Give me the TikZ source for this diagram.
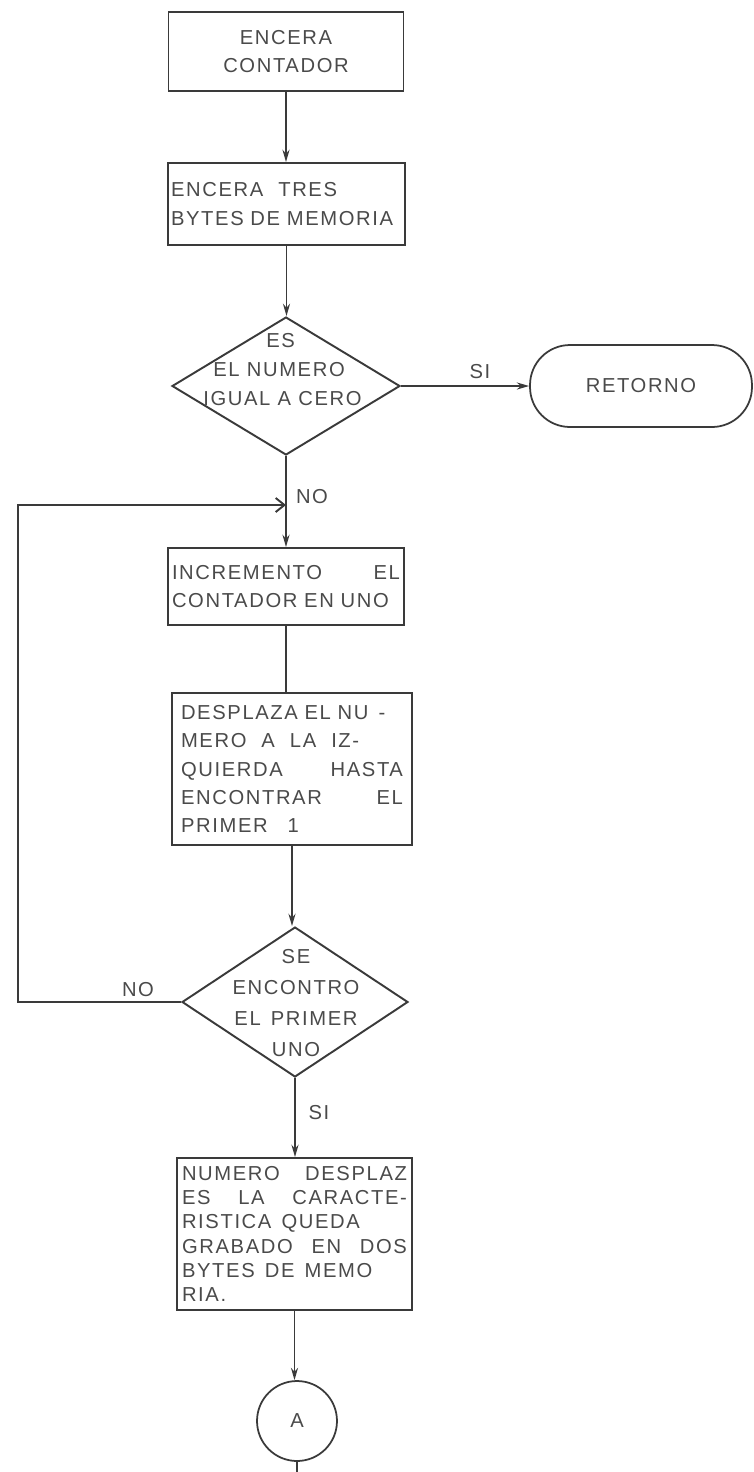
\documentclass[tikz,border=0pt]{standalone}
\usepackage{fontspec}
\setmainfont{Liberation Sans}[LetterSpace=8]
\usetikzlibrary{arrows.meta,shapes.geometric}
\definecolor{inkline}{HTML}{3A3A3A}
\definecolor{inktext}{HTML}{4A4A4A}

\begin{document}
\begin{tikzpicture}[
  x=0.02cm,
  y=-0.02cm,
  every node/.style={font=\fontsize{11.5}{16}\selectfont, inktext},
  stepbox/.style={draw=inkline, line width=1.1pt, rectangle,
                  inner xsep=0.12cm, inner ysep=0pt, align=left},
  decision/.style={draw=inkline, line width=1.1pt, diamond, inner sep=0pt,
                   minimum width=4.56cm, minimum height=2.76cm},
  terminal/.style={draw=inkline, line width=1pt, rectangle,
                   rounded corners=0.8cm, minimum width=4.44cm,
                   minimum height=1.64cm},
  joint/.style={draw=inkline, line width=1pt, circle, inner sep=0pt,
                minimum size=1.6cm},
  flow/.style={inkline, line width=1.1pt, -{Stealth[length=7pt, width=4pt]}},
  link/.style={inkline, line width=1.1pt},
  loopback/.style={inkline, line width=1.1pt,
                   -{Straight Barb[length=5pt, width=8pt]}},
  edgetag/.style={inner sep=0pt}
]
  \useasboundingbox (0,0) rectangle (754,1472);

  % ---- first two steps ------------------------------------------------
  \node[stepbox, align=center, text width=4.4cm, minimum width=4.70cm,
        minimum height=1.58cm] (b1) at (286,51.5) {ENCERA\\CONTADOR};
  \node[stepbox, text width=4.62cm, minimum width=4.74cm,
        minimum height=1.64cm, inner xsep=0.06cm] (b2) at (286.5,204)
    {ENCERA\hspace{0.3cm}TRES\\BYTES DE MEMORIA};

  % ---- is the number zero? ------------------------------------------
  \node[decision] (d1) at (286,386) {};
  \node[anchor=north west, align=left, inner sep=0pt,
        font=\fontsize{11.5}{16.5}\selectfont] (d1txt) at (203,333)
    {\hspace*{1.26cm}ES\\\hspace*{0.2cm}EL NUMERO\\IGUAL A CERO};
  \node[terminal] (ret) at (641,386) {RETORNO};

  % ---- loop body --------------------------------------------------------
  \node[stepbox, text width=4.56cm, minimum width=4.72cm,
        minimum height=1.54cm, inner xsep=0.08cm] (b3) at (286,586.5)
    {INCREMENTO \hfill EL\\CONTADOR EN UNO};
  \node[stepbox, text width=4.44cm, minimum width=4.8cm,
        minimum height=3.04cm, inner xsep=0.18cm] (b4) at (292,769)
    {DESPLAZA EL NU\enspace -\\MERO\hspace{0.3cm}A\hspace{0.3cm}LA\hspace{0.3cm}IZ-\\
     QUIERDA \hfill HASTA\\ENCONTRAR \hfill EL\\PRIMER\hspace{0.4cm}1};

  % ---- first one found? ---------------------------------------------
  \node[decision, minimum width=4.52cm, minimum height=3.0cm] (d2)
    at (295,1002) {};
  \node[align=center, inner sep=0pt, font=\fontsize{11.5}{17.6}\selectfont]
    (d2txt) at (296,1003) {SE\\ENCONTRO\\EL\enspace PRIMER\\UNO};

  % ---- result and connector ---------------------------------------------
  \node[stepbox, text width=4.5cm, minimum width=4.7cm,
        minimum height=3.04cm, inner xsep=0.1cm,
        font=\fontsize{11.5}{13.8}\selectfont] (b5) at (294.5,1234)
    {NUMERO \hfill DESPLAZ\\ES \hfill LA \hfill CARACTE-\\RISTICA\enspace QUEDA\\
     GRABADO \hfill EN \hfill DOS\\BYTES\enspace DE\enspace MEMO\\RIA.};
  \node[joint] (cA) at (297,1421) {A};

  \coordinate (rail) at (18,505);
  \coordinate (merge) at (d1.south |- rail);
  \coordinate (exit) at (297,1472);

  % ---- connectors -------------------------------------------------------
  \draw[flow] (b1.south) -- (b1.south |- b2.north);
  \draw[flow] (b2.south) -- (b2.south |- d1.north);
  \draw[flow] (d1.east) -- (d1.east -| ret.west);
  \draw[flow] (d1.south) -- (d1.south |- b3.north);
  \draw[link] (b3.south) -- (b3.south |- b4.north);
  \draw[flow] (b4.south) -- (b4.south |- d2.north);
  \draw[flow] (d2.south) -- (d2.south |- b5.north);
  \draw[flow] (b5.south) -- (b5.south |- cA.north);
  \draw[link] (cA.south) -- (exit);
  \draw[loopback] (d2.west) -| (rail) -- (merge);

  % ---- branch labels ----------------------------------------------------
  \node[edgetag] (si1) at (480,372) {SI};
  \node[edgetag] (no1) at (312,497) {NO};
  \node[edgetag] (no2) at (138,990) {NO};
  \node[edgetag] (si2) at (319,1113) {SI};
\end{tikzpicture}
\end{document}
